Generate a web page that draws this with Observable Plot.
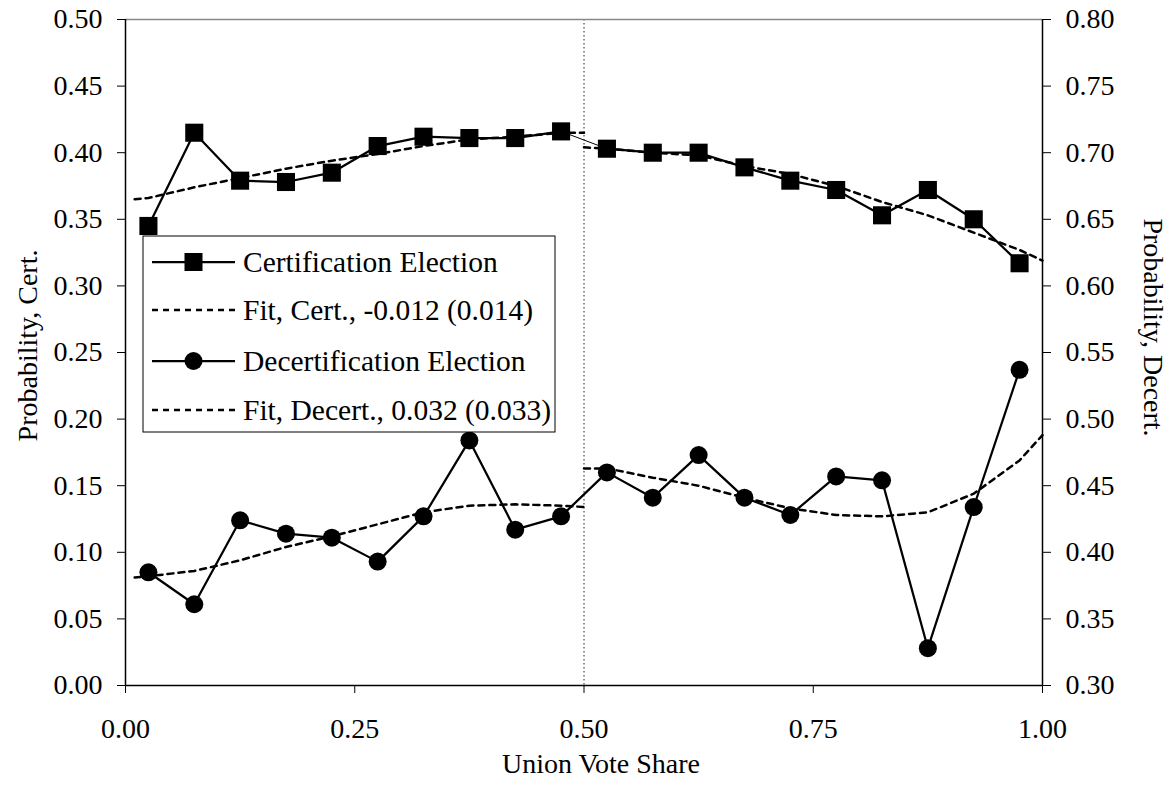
<!DOCTYPE html>
<html>
<head>
<meta charset="utf-8">
<script src="https://cdn.jsdelivr.net/npm/d3@7"></script>
<script src="https://cdn.jsdelivr.net/npm/@observablehq/plot@0.6"></script>
<style>
  html, body { margin: 0; padding: 0; background: #fff; }
  #chart svg { display: block; }
</style>
</head>
<body>
<div id="chart"></div>
<script>
// Bin midpoints of union vote share
const voteShare = [0.025, 0.075, 0.125, 0.175, 0.225, 0.275, 0.325, 0.375, 0.425, 0.475,
                   0.525, 0.575, 0.625, 0.675, 0.725, 0.775, 0.825, 0.875, 0.925, 0.975];
// Certification election probability (left axis)
const certProb = [0.345, 0.415, 0.379, 0.378, 0.385, 0.405, 0.412, 0.411, 0.411, 0.416,
                  0.403, 0.400, 0.400, 0.389, 0.379, 0.372, 0.353, 0.372, 0.350, 0.317];
// Decertification election probability (right axis)
const decertProb = [0.385, 0.361, 0.424, 0.414, 0.411, 0.393, 0.427, 0.484, 0.417, 0.427,
                    0.460, 0.441, 0.473, 0.441, 0.428, 0.457, 0.454, 0.328, 0.434, 0.537];
// Fitted curves (left and right of the 0.50 threshold)
const fitXLeft  = [0.01, 0.025, 0.075, 0.125, 0.175, 0.225, 0.275, 0.325, 0.375, 0.425, 0.475, 0.5];
const fitXRight = [0.5, 0.525, 0.575, 0.625, 0.675, 0.725, 0.775, 0.825, 0.875, 0.925, 0.975, 1.0];
const certFitLeft  = [0.365, 0.366, 0.374, 0.381, 0.388, 0.394, 0.399, 0.405, 0.410, 0.412, 0.415, 0.415];
const certFitRight = [0.404, 0.403, 0.400, 0.398, 0.390, 0.384, 0.375, 0.363, 0.353, 0.340, 0.327, 0.319];
const decertFitLeft  = [0.381, 0.382, 0.386, 0.394, 0.404, 0.412, 0.421, 0.430, 0.435, 0.436, 0.435, 0.434];
const decertFitRight = [0.463, 0.463, 0.456, 0.450, 0.441, 0.433, 0.428, 0.427, 0.430, 0.444, 0.469, 0.488];

// Axis ticks
const xTicks = [0, 0.25, 0.5, 0.75, 1];
const xTickLabels = ["0.00", "0.25", "0.50", "0.75", "1.00"];
const yTicks = [0, 0.05, 0.1, 0.15, 0.2, 0.25, 0.3, 0.35, 0.4, 0.45, 0.5];
const yLeftLabels = ["0.00", "0.05", "0.10", "0.15", "0.20", "0.25", "0.30", "0.35", "0.40", "0.45", "0.50"];
const yRightLabels = ["0.30", "0.35", "0.40", "0.45", "0.50", "0.55", "0.60", "0.65", "0.70", "0.75", "0.80"];
const rightOffset = 0.30; // right axis = left axis + 0.30

const threshold = [0.5];
const xTitle = "Union Vote Share";
const yLeftTitle = "Probability, Cert.";
const yRightTitle = "Probability, Decert.";
const legendLabels = ["Certification Election", "Fit, Cert., -0.012 (0.014)",
                      "Decertification Election", "Fit, Decert., 0.032 (0.033)"];

// Build tables
const cert = voteShare.map((x, i) => ({x, y: certProb[i], i}));
const decert = voteShare.map((x, i) => ({x, y: decertProb[i] - rightOffset, i}));
const certFit = [
  ...fitXLeft.map((x, i) => ({x, y: certFitLeft[i], seg: "L"})),
  ...fitXRight.map((x, i) => ({x, y: certFitRight[i], seg: "R"}))
];
const decertFit = [
  ...fitXLeft.map((x, i) => ({x, y: decertFitLeft[i] - rightOffset, seg: "L"})),
  ...fitXRight.map((x, i) => ({x, y: decertFitRight[i] - rightOffset, seg: "R"}))
];

const FONT = "Liberation Serif, Times New Roman, serif";
const dash = "6,5";

const chart = Plot.plot({
  width: 1171,
  height: 789,
  marginLeft: 125,
  marginRight: 129,
  marginTop: 19,
  marginBottom: 104,
  style: {fontFamily: FONT, fontSize: "28px", color: "black", background: "white", overflow: "visible"},
  x: {domain: [0, 1]},
  y: {domain: [0, 0.5]},
  marks: [
    Plot.ruleX(threshold, {stroke: "#222", strokeWidth: 1, strokeDasharray: "1.5,2.5"}),
    Plot.ruleY([0.5], {stroke: "#888", strokeWidth: 1.5}),
    Plot.line(certFit, {x: "x", y: "y", z: "seg", stroke: "black", strokeWidth: 2.5, strokeDasharray: dash}),
    Plot.line(decertFit, {x: "x", y: "y", z: "seg", stroke: "black", strokeWidth: 2.5, strokeDasharray: dash}),
    Plot.line(cert.filter(d => d.i <= 9), {x: "x", y: "y", stroke: "black", strokeWidth: 2.25}),
    Plot.line(cert.filter(d => d.i >= 9 && d.i <= 10), {x: "x", y: "y", stroke: "black", strokeWidth: 1}),
    Plot.line(cert.filter(d => d.i >= 10), {x: "x", y: "y", stroke: "black", strokeWidth: 2.25}),
    Plot.line(decert, {x: "x", y: "y", stroke: "black", strokeWidth: 2.25}),
    Plot.dot(cert, {x: "x", y: "y", symbol: "square", r: 10.2, fill: "black", stroke: "none"}),
    Plot.dot(decert, {x: "x", y: "y", symbol: "circle", r: 9, fill: "black", stroke: "none"}),
    Plot.axisX({ticks: xTicks, tickFormat: d => xTickLabels[xTicks.indexOf(d)], tickSize: 8, tickPadding: 25,
                label: null, fontSize: 28, fontFamily: FONT}),
    Plot.axisY({anchor: "left", ticks: yTicks, tickFormat: d => yLeftLabels[yTicks.indexOf(d)], tickSize: 8,
                tickPadding: 15, label: null, fontSize: 28, fontFamily: FONT}),
    Plot.axisY({anchor: "right", ticks: yTicks, tickFormat: d => yRightLabels[yTicks.indexOf(d)], tickSize: 8,
                tickPadding: 15, label: null, fontSize: 28, fontFamily: FONT}),
    Plot.ruleX([0, 1], {stroke: "black", strokeWidth: 1.5}),
    Plot.ruleY([0], {stroke: "black", strokeWidth: 1.5}),
    Plot.text([xTitle], {frameAnchor: "bottom", text: d => d, dx: 17, dy: 87, textAnchor: "middle",
                         fontSize: 28, fontFamily: FONT}),
    Plot.text([yLeftTitle], {frameAnchor: "left", text: d => d, dx: -97, dy: -7, rotate: -90,
                             textAnchor: "middle", fontSize: 28, fontFamily: FONT}),
    Plot.text([yRightTitle], {frameAnchor: "right", text: d => d, dx: 110, dy: -25, rotate: 90,
                              textAnchor: "middle", fontSize: 28, fontFamily: FONT})
  ]
});

// Legend box (drawn on top of the plot area, as in the original)
const svg = d3.select(chart);
const lg = svg.append("g").attr("font-family", FONT).attr("font-size", 29.5).attr("text-anchor", "start");
lg.append("rect").attr("x", 143).attr("y", 236).attr("width", 412).attr("height", 196)
  .attr("fill", "white").attr("stroke", "black").attr("stroke-width", 1);
const rowY = [262, 310, 361, 410];
const kinds = ["square", "dash", "circle", "dash"];
rowY.forEach((yy, k) => {
  const line = lg.append("line").attr("x1", 152).attr("x2", 235).attr("y1", yy).attr("y2", yy)
    .attr("stroke", "black");
  if (kinds[k] === "dash") {
    line.attr("stroke-width", 2.5).attr("stroke-dasharray", dash);
  } else {
    line.attr("stroke-width", 2.25);
  }
  if (kinds[k] === "square") {
    lg.append("rect").attr("x", 193.5 - 9).attr("y", yy - 9).attr("width", 18).attr("height", 18).attr("fill", "black");
  } else if (kinds[k] === "circle") {
    lg.append("circle").attr("cx", 193.5).attr("cy", yy).attr("r", 9).attr("fill", "black");
  }
  lg.append("text").attr("x", 243).attr("y", yy).attr("dy", "0.35em").attr("text-anchor", "start")
    .attr("fill", "black").text(legendLabels[k]);
});

document.getElementById("chart").appendChild(chart);
</script>
</body>
</html>
